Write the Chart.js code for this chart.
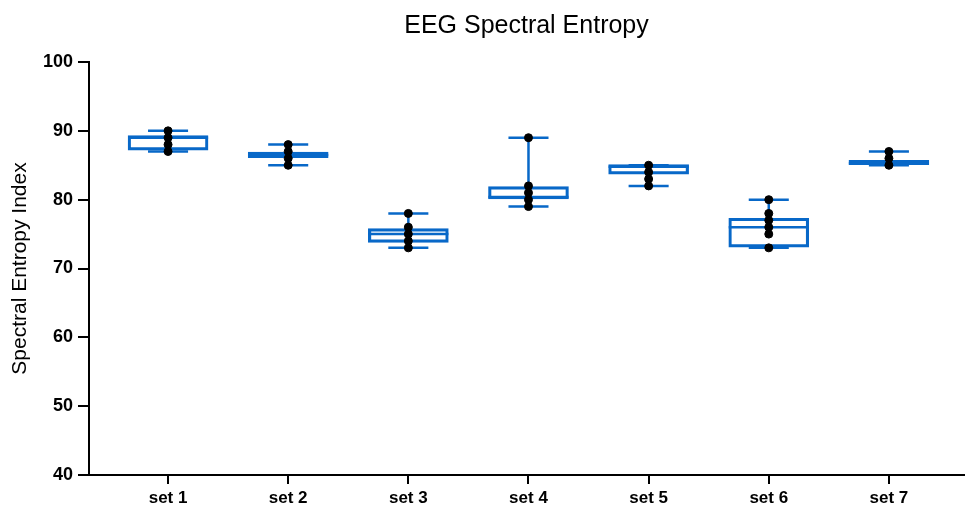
<!DOCTYPE html>
<html>
<head>
<meta charset="utf-8">
<script src="https://cdn.jsdelivr.net/npm/chart.js@4/dist/chart.umd.min.js"></script>
<style>
  html, body { margin: 0; padding: 0; background: #fff; }
  #wrap { width: 969px; height: 510px; }
</style>
</head>
<body>
<div id="wrap"><canvas id="boxchart"></canvas></div>
<script>
// categories and values
var categories = ["set 1", "set 2", "set 3", "set 4", "set 5", "set 6", "set 7"];

var mins    = [87,   85,   73,   79,   82,   73,   85];
var q1s     = [87.2, 86.1, 73.8, 80.1, 83.7, 73.1, 85.1];
var medians = [89,   86.5, 75,   80.4, 84.8, 76,   85.3];
var q3s     = [89.3, 86.9, 75.8, 81.9, 85.1, 77.3, 85.7];
var maxs    = [90,   88,   78,   89,   85,   80,   87];

var points = [
  [87, 88, 89, 90],
  [85, 86, 87, 88],
  [73, 74, 75, 76, 78],
  [79, 80, 81, 82, 89],
  [82, 83, 84, 85],
  [73, 75, 76, 77, 78, 80],
  [85, 86, 87]
];

var yTicks = [40, 50, 60, 70, 80, 90, 100];
var chartTitle = "EEG Spectral Entropy";

var blue = "#0868c8";
var font = "'Liberation Sans', Arial, Helvetica, sans-serif";

var boxData = [];
var dotData = [];
for (var i = 0; i < categories.length; i++) {
  boxData.push({ x: i + 1, y: [q1s[i], q3s[i]] });
  for (var j = 0; j < points[i].length; j++) {
    dotData.push({ x: i + 1, y: points[i][j] });
  }
}

// whiskers + median lines, drawn through the chart scales
var boxExtras = {
  id: "boxExtras",
  beforeDatasetsDraw: function(chart) {
    var ctx = chart.ctx;
    var xs = chart.scales.x, ys = chart.scales.y;
    ctx.save();
    ctx.strokeStyle = blue;
    ctx.lineWidth = 2.5;
    for (var i = 0; i < categories.length; i++) {
      var cx = xs.getPixelForValue(i + 1);
      var capHalf = (xs.getPixelForValue(i + 1 + 1 / 6) - cx);
      var boxHalf = (xs.getPixelForValue(i + 1 + 1 / 3) - cx);
      ctx.beginPath();
      ctx.moveTo(cx, ys.getPixelForValue(q3s[i]));
      ctx.lineTo(cx, ys.getPixelForValue(maxs[i]));
      ctx.moveTo(cx, ys.getPixelForValue(q1s[i]));
      ctx.lineTo(cx, ys.getPixelForValue(mins[i]));
      ctx.moveTo(cx - capHalf, ys.getPixelForValue(maxs[i]));
      ctx.lineTo(cx + capHalf, ys.getPixelForValue(maxs[i]));
      ctx.moveTo(cx - capHalf, ys.getPixelForValue(mins[i]));
      ctx.lineTo(cx + capHalf, ys.getPixelForValue(mins[i]));
      ctx.moveTo(cx - boxHalf, ys.getPixelForValue(medians[i]));
      ctx.lineTo(cx + boxHalf, ys.getPixelForValue(medians[i]));
      ctx.stroke();
    }
    ctx.restore();
  },
  // title centred over the plot area
  afterDraw: function(chart) {
    var ctx = chart.ctx;
    var a = chart.chartArea;
    ctx.save();
    ctx.fillStyle = "#000";
    ctx.font = "normal 25px " + font;
    ctx.textAlign = "center";
    ctx.textBaseline = "middle";
    ctx.fillText(chartTitle, (a.left + a.right) / 2, 26);
    ctx.restore();
  }
};

var ctx = document.getElementById("boxchart");

var chart = new Chart(ctx, {
  type: "bar",
  data: {
    datasets: [
      {
        label: "box",
        data: boxData,
        backgroundColor: "rgba(0,0,0,0)",
        borderColor: blue,
        borderWidth: 2.5,
        borderSkipped: false,
        barThickness: 80,
        order: 2
      },
      {
        type: "scatter",
        label: "values",
        data: dotData,
        backgroundColor: "#000",
        borderColor: "#000",
        pointRadius: 4,
        pointHoverRadius: 4,
        order: 1
      }
    ]
  },
  options: {
    responsive: true,
    maintainAspectRatio: false,
    animation: false,
    layout: { padding: { left: 0, right: 1, top: 62, bottom: 0 } },
    plugins: {
      legend: { display: false },
      tooltip: { enabled: false },
      title: { display: false }
    },
    scales: {
      x: {
        type: "linear",
        offset: false,
        min: 0.342,
        max: 7.625,
        afterBuildTicks: function(scale) {
          scale.ticks = categories.map(function(c, k) { return { value: k + 1 }; });
        },
        afterFit: function(scale) { scale.height = 35; },
        grid: { offset: false, drawOnChartArea: false, drawTicks: true, tickLength: 9, color: "#000", lineWidth: 2 },
        border: { display: true, color: "#000", width: 2 },
        ticks: {
          color: "#000",
          padding: 4,
          maxRotation: 0,
          font: { family: font, size: 17, weight: "bold" },
          callback: function(v) { return categories[Math.round(v) - 1]; }
        }
      },
      y: {
        min: 40,
        max: 100,
        afterBuildTicks: function(scale) {
          scale.ticks = yTicks.map(function(t) { return { value: t }; });
        },
        afterFit: function(scale) { scale.width = 89; },
        grid: { drawOnChartArea: false, drawTicks: true, tickLength: 11, color: "#000", lineWidth: 2 },
        border: { display: true, color: "#000", width: 2 },
        title: {
          display: true,
          text: "Spectral Entropy Index",
          color: "#000",
          font: { family: font, size: 21, weight: "normal" },
          padding: { top: 8, bottom: 0 }
        },
        ticks: {
          color: "#000",
          padding: 5,
          font: { family: font, size: 18, weight: "bold" }
        }
      }
    }
  },
  plugins: [boxExtras]
});
</script>
</body>
</html>
